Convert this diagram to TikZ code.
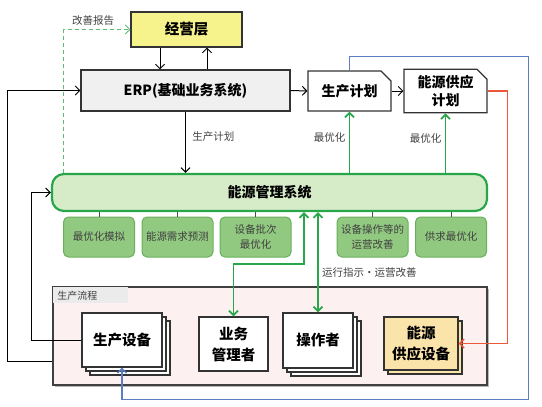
\documentclass[tikz,border=0pt]{standalone}
\usepackage{fontspec}
\setmainfont{Noto Sans CJK SC}
\usetikzlibrary{positioning,shapes.misc,shadows,arrows.meta}
\definecolor{emsgreen}{RGB}{40,166,74}
\definecolor{emsfill}{RGB}{214,235,200}
\definecolor{subfill}{RGB}{146,201,128}
\definecolor{subedge}{RGB}{104,176,92}
\definecolor{topyellow}{RGB}{246,242,140}
\definecolor{supfill}{RGB}{250,228,170}
\definecolor{procfill}{RGB}{253,240,240}
\definecolor{blueline}{RGB}{90,125,195}
\definecolor{redline}{RGB}{236,88,56}
\begin{document}
\begin{tikzpicture}[x=1pt,y=-1pt,>={Straight Barb[length=4.5pt,width=9pt]},line width=1pt,
    box/.style={draw=black!80,line width=1.1pt,fill=white,align=center,inner sep=1pt,
      font=\bfseries\fontsize{14.5}{21}\selectfont},
    plan/.style={box,chamfered rectangle,chamfered rectangle corners=north east,
      chamfered rectangle sep=5pt,minimum width=83pt,minimum height=40pt,
      font=\bfseries\fontsize{14}{18}\selectfont},
    stackbox/.style={box,double copy shadow={shadow xshift=4pt,shadow yshift=-4pt,
      fill=white,draw=black!80,line width=1.1pt}},
    ems/.style={draw=emsgreen,line width=2.2pt,fill=emsfill,rounded corners=12pt,
      minimum width=435pt,minimum height=37pt,font=\bfseries\fontsize{14}{15}\selectfont},
    sub/.style={draw=subedge,fill=subfill,rounded corners=5pt,minimum width=71pt,
      minimum height=40pt,align=center,text=black!75,font=\fontsize{10.5}{15}\selectfont},
    proc/.style={draw=black!75,line width=1.1pt,fill=procfill,minimum width=434pt,
      minimum height=98pt,drop shadow={shadow xshift=2pt,shadow yshift=-2pt,fill=black!55}},
    tab/.style={fill=black!8,text width=67pt,inner xsep=4pt,minimum height=16pt,
      text=black!75,font=\fontsize{10}{11}\selectfont},
    lbl/.style={text=black!75,font=\fontsize{10.5}{12}\selectfont},
    gline/.style={draw=emsgreen,line width=1.8pt},
    dline/.style={draw=emsgreen!75,line width=1pt,dash pattern=on 4pt off 3pt},
    bline/.style={draw=blueline,line width=1.4pt},
    rline/.style={draw=redline,line width=1.4pt}]
  \useasboundingbox (0,0) rectangle (542,407);

  \node[box,fill=topyellow,minimum width=111pt,minimum height=35pt] (jyc) at (186.5,29.5) {经营层};
  \node[box,fill=black!6,minimum width=209pt,minimum height=41pt,font=\bfseries\fontsize{14}{18}\selectfont]
    (erp) at (185.5,90.5) {ERP(基础业务系统)};
  \node[plan] (scjh) at (349.5,91) {生产计划};
  \node[plan] (nyjh) at (445.5,91) {能源供应\\计划};
  \node[ems] (ems) at (269.5,192.5) {能源管理系统};
  \foreach \n/\x/\t in {1/99/最优化模拟,2/177.5/能源需求预测,3/255.5/{设备批次\\最优化},
      4/372.5/{设备操作等的\\运营改善},5/451/供求最优化}
    \node[sub] (s\n) at (\x,237) {\t};

  \node[proc] (proc) at (270,336) {};
  \node[tab,anchor=north west] (tab) at ([xshift=0.5pt,yshift=-0.5pt]proc.north west) {生产流程};
  \node[stackbox,minimum width=80pt,minimum height=54pt] (scsb) at (122,340) {生产设备};
  \node[box,minimum width=69pt,minimum height=54pt] (ywgl) at (233.5,344) {业务\\管理者};
  \node[stackbox,minimum width=70pt,minimum height=55pt] (czz) at (318,340.5) {操作者};
  \node[box,fill=supfill,minimum width=74pt,minimum height=53pt,
    copy shadow={shadow xshift=4pt,shadow yshift=-4pt,fill=supfill,draw=black!80,line width=1.1pt}]
    (nysb) at (421,343.5) {能源\\供应设备};

  \foreach \i in {1,...,5}
    \draw[black!70] (s\i.north |- ems.south) -- (s\i.north);

  \draw[->] ([xshift=-26.5pt]jyc.south) -- ([xshift=-26.5pt]jyc.south |- erp.north);
  \draw[->] ([xshift=20.5pt]jyc.south |- erp.north) -- ([xshift=20.5pt]jyc.south);
  \draw[->] (erp.east) -- (scjh.west);
  \draw[->] (scjh.east) -- (nyjh.west);
  \draw[->] (erp.south) -- node[lbl,right,pos=0.4,xshift=3pt] {生产计划} (erp.south |- ems.north);
  \draw[gline,->] (scjh.south |- ems.north) -- node[lbl,left,pos=0.57] {最优化} (scjh.south);
  \draw[gline,->] (nyjh.south |- ems.north) -- node[lbl,left,pos=0.57] {最优化} (nyjh.south);
  \draw[dline,->] ([xshift=13pt]ems.north west) |- node[lbl,above,pos=0.72] {改善报告} (jyc.west);
  \draw[->] ([yshift=-25pt]proc.west) -- ++(-45,0) |- (erp.west);
  \draw[->] (scsb.west) -- ++(-50,0) |- (ems.west);
  \draw[gline,<->] ([xshift=34.5pt]ems.south) -- ++(0,52) -| (ywgl.north);
  \draw[gline,<->] ([xshift=48.5pt]ems.south) -- node[lbl,right,pos=0.6] {运行指示·运营改善}
    ([xshift=48.5pt]ems.south |- czz.north);
  \draw[bline,->] (scjh.north) -- ++(0,-14) -- ++(179,0) -- ++(0,343) -| (scsb.south);
  \draw[rline,->] (nyjh.east) -- ++(20,0) |- (nysb.east);
\end{tikzpicture}
\end{document}
